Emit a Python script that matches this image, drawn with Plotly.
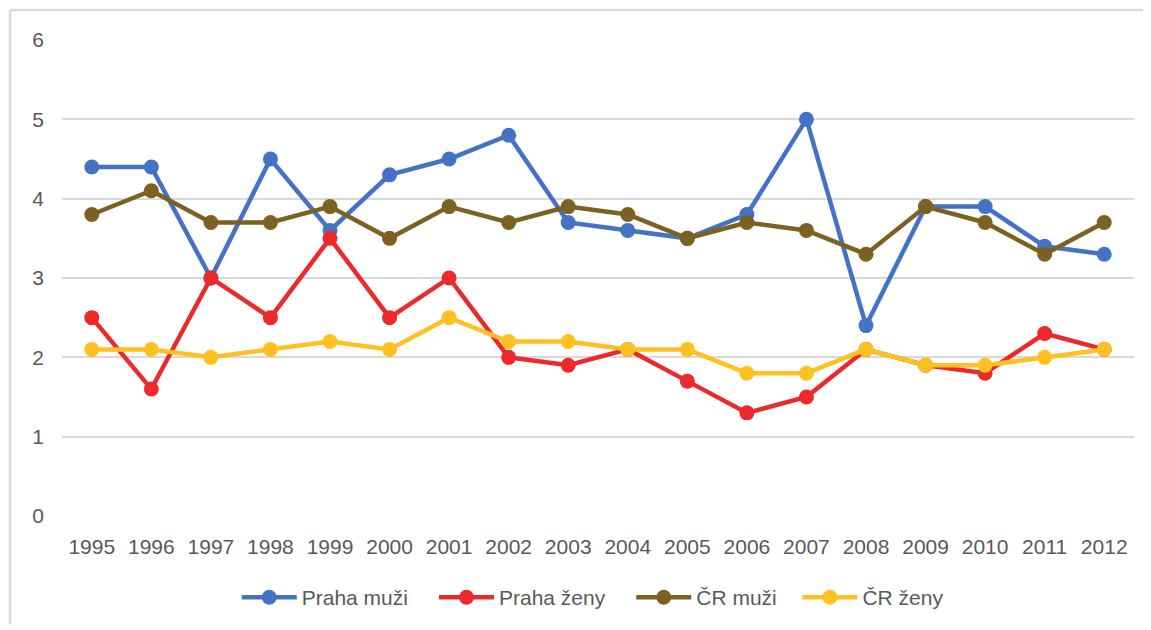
import plotly.graph_objects as go

years = [str(y) for y in range(1995, 2013)]
praha_muzi = [4.4, 4.4, 3.0, 4.5, 3.6, 4.3, 4.5, 4.8, 3.7, 3.6, 3.5, 3.8, 5.0, 2.4, 3.9, 3.9, 3.4, 3.3]
praha_zeny = [2.5, 1.6, 3.0, 2.5, 3.5, 2.5, 3.0, 2.0, 1.9, 2.1, 1.7, 1.3, 1.5, 2.1, 1.9, 1.8, 2.3, 2.1]
cr_muzi = [3.8, 4.1, 3.7, 3.7, 3.9, 3.5, 3.9, 3.7, 3.9, 3.8, 3.5, 3.7, 3.6, 3.3, 3.9, 3.7, 3.3, 3.7]
cr_zeny = [2.1, 2.1, 2.0, 2.1, 2.2, 2.1, 2.5, 2.2, 2.2, 2.1, 2.1, 1.8, 1.8, 2.1, 1.9, 1.9, 2.0, 2.1]

series_names = ["Praha muži", "Praha ženy", "ČR muži", "ČR ženy"]
series_values = [praha_muzi, praha_zeny, cr_muzi, cr_zeny]
series_colors = ["#4472C4", "#EC2A2C", "#7D6120", "#FFC022"]
legend_ids = ["legend", "legend2", "legend3", "legend4"]
legend_x = [0.163, 0.347, 0.531, 0.686]

fig = go.Figure()
for name, vals, col, lid in zip(series_names, series_values, series_colors, legend_ids):
    fig.add_trace(go.Scatter(
        x=years, y=vals, name=name, mode="lines+markers",
        line=dict(color=col, width=4.5),
        marker=dict(color=col, size=15),
        legend=lid,
    ))

font_family = "Liberation Sans, Arial, sans-serif"
leg_common = dict(orientation="h", y=-0.1715, yanchor="middle", xanchor="left",
                  font=dict(size=21, color="#595959", family=font_family), itemwidth=55,
                  bgcolor="rgba(0,0,0,0)")
legends = {lid: dict(x=lx, **leg_common) for lid, lx in zip(legend_ids, legend_x)}

fig.update_layout(
    width=1143, height=622,
    margin=dict(l=54, r=17, t=32, b=112),
    paper_bgcolor="white", plot_bgcolor="white",
    font=dict(family=font_family, size=21, color="#595959"),
    showlegend=True,
    xaxis=dict(type="category", range=[-0.5, 17.5], showgrid=False, zeroline=False,
               showline=False, ticks="", ticklabelstandoff=16,
               tickfont=dict(size=21, color="#595959"), fixedrange=True),
    yaxis=dict(range=[0, 6], dtick=1, showgrid=True, gridcolor="#D9D9D9", gridwidth=1.5,
               zeroline=False, showline=False, ticks="", ticklabelstandoff=17,
               tickfont=dict(size=21, color="#595959"), fixedrange=True),
    shapes=[
        dict(type="line", xref="paper", yref="paper", x0=-0.0485, x1=1.02, y0=1.0628, y1=1.0628,
             line=dict(color="#D9D9D9", width=2.5)),
        dict(type="line", xref="paper", yref="paper", x0=-0.0485, x1=-0.0485, y0=1.0628, y1=-0.228,
             line=dict(color="#D9D9D9", width=2.5)),
    ],
    **legends,
)

fig.write_html("out.html")
